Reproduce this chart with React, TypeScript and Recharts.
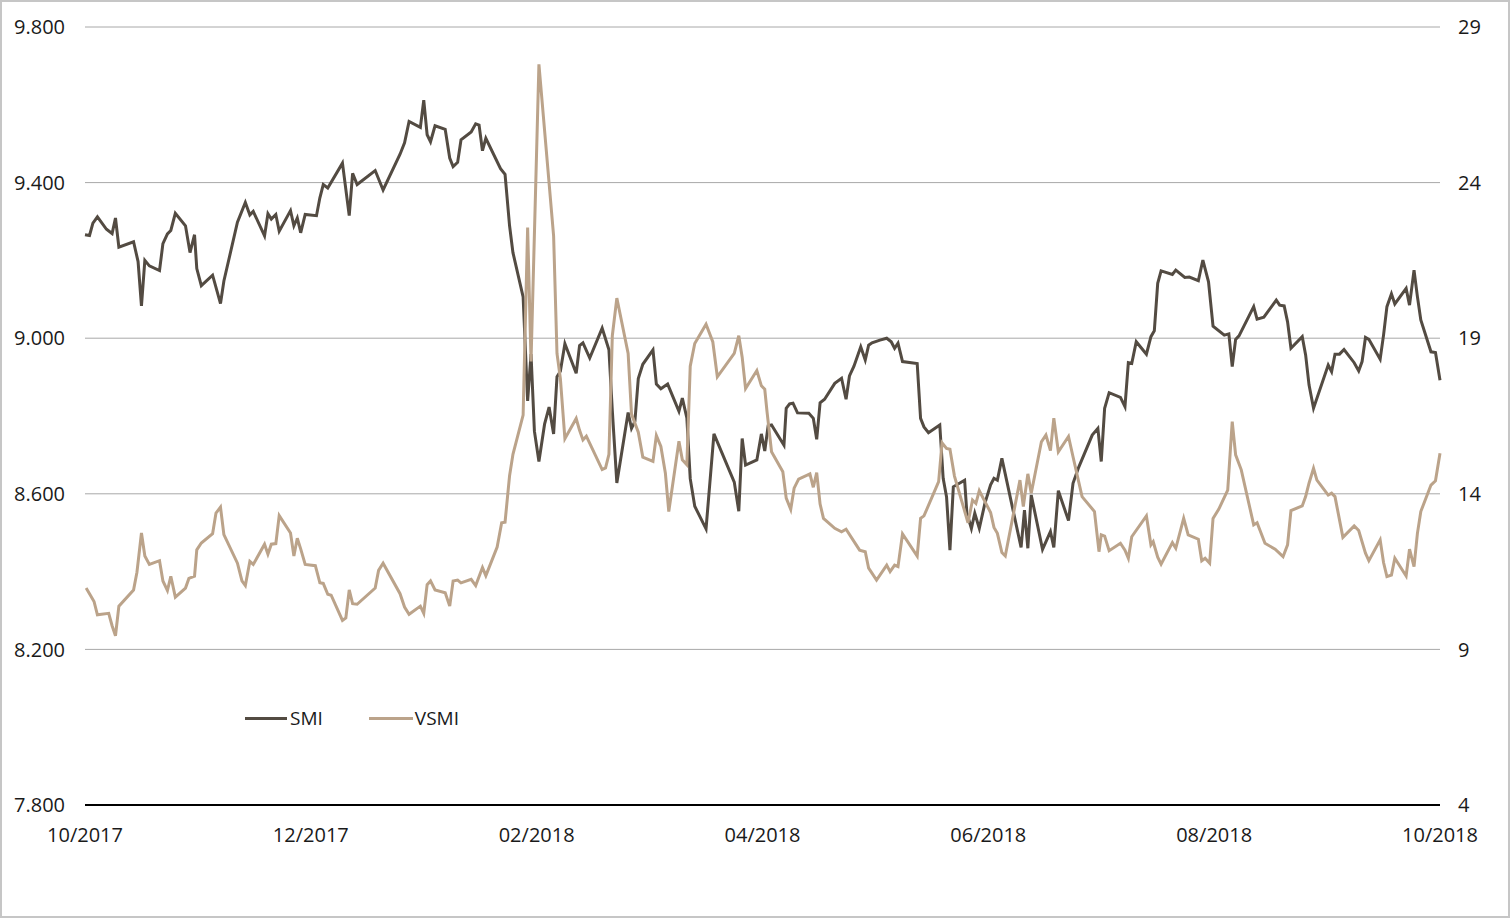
import { LineChart, Line, XAxis, YAxis, CartesianGrid } from "recharts";

// x = months since 10/2017
const smiMonths = [
  0, 0.04, 0.07, 0.11, 0.19, 0.24, 0.27, 0.3, 0.43, 0.47, 0.5, 0.53, 0.57, 0.66, 0.69, 0.73, 0.76, 0.8, 0.89, 0.93,
  0.97, 0.99, 1.03, 1.13, 1.2, 1.23, 1.35, 1.42, 1.46, 1.49, 1.59, 1.62, 1.65, 1.69, 1.72, 1.82, 1.85, 1.88, 1.91, 1.95,
  2.05, 2.08, 2.11, 2.15, 2.28, 2.34, 2.37, 2.41, 2.57, 2.64, 2.79, 2.83, 2.87, 2.97, 3.0, 3.03, 3.06, 3.1, 3.19, 3.23,
  3.26, 3.3, 3.33, 3.42, 3.46, 3.49, 3.52, 3.55, 3.68, 3.72, 3.76, 3.79, 3.88, 3.92, 3.95, 3.98, 4.02, 4.07, 4.11, 4.15,
  4.18, 4.21, 4.25, 4.35, 4.38, 4.41, 4.47, 4.58, 4.64, 4.67, 4.71, 4.81, 4.84, 4.87, 4.9, 4.94, 5.03, 5.06, 5.1, 5.16,
  5.26, 5.29, 5.33, 5.36, 5.4, 5.5, 5.57, 5.75, 5.79, 5.82, 5.85, 5.95, 5.99, 6.02, 6.05, 6.08, 6.19, 6.21, 6.24, 6.27,
  6.31, 6.41, 6.45, 6.48, 6.51, 6.55, 6.64, 6.7, 6.74, 6.77, 6.81, 6.87, 6.91, 6.94, 6.97, 7.04, 7.1, 7.14, 7.17, 7.2,
  7.24, 7.37, 7.4, 7.43, 7.47, 7.57, 7.6, 7.63, 7.66, 7.69, 7.79, 7.81, 7.85, 7.88, 7.92, 7.97, 8.02, 8.05, 8.08, 8.12,
  8.29, 8.32, 8.35, 8.38, 8.48, 8.55, 8.58, 8.62, 8.71, 8.75, 8.8, 8.92, 8.97, 9.0, 9.03, 9.07, 9.17, 9.21, 9.24, 9.27,
  9.31, 9.4, 9.44, 9.47, 9.5, 9.53, 9.63, 9.66, 9.74, 9.78, 9.86, 9.9, 9.95, 9.99, 10.09, 10.13, 10.16, 10.19, 10.22, 10.35,
  10.38, 10.44, 10.55, 10.58, 10.62, 10.65, 10.68, 10.78, 10.81, 10.84, 10.88, 11.01, 11.04, 11.07, 11.11, 11.15, 11.24, 11.28, 11.31, 11.34,
  11.37, 11.47, 11.5, 11.53, 11.57, 11.6, 11.7, 11.73, 11.77, 11.8, 11.83, 11.92, 11.96, 12.0,
];
const smiValues = [
  9266, 9264, 9296, 9312, 9280, 9269, 9309, 9234, 9248, 9197, 9083, 9200, 9186, 9174, 9243, 9268, 9277, 9321, 9289, 9220,
  9266, 9179, 9135, 9162, 9089, 9147, 9298, 9349, 9317, 9326, 9263, 9320, 9306, 9318, 9275, 9328, 9289, 9309, 9271, 9318,
  9315, 9361, 9395, 9386, 9450, 9315, 9424, 9395, 9431, 9381, 9473, 9502, 9557, 9542, 9612, 9523, 9505, 9546, 9537, 9463,
  9441, 9452, 9510, 9530, 9551, 9548, 9482, 9514, 9436, 9421, 9289, 9220, 9106, 8839, 8959, 8761, 8683, 8779, 8823, 8754,
  8901, 8915, 8986, 8910, 8981, 8988, 8949, 9026, 8970, 8814, 8628, 8809, 8768, 8786, 8896, 8933, 8970, 8882, 8870, 8882,
  8812, 8846, 8795, 8639, 8568, 8510, 8754, 8630, 8555, 8742, 8674, 8687, 8754, 8710, 8775, 8777, 8725, 8820, 8831, 8833,
  8808, 8807, 8794, 8740, 8834, 8843, 8884, 8897, 8843, 8903, 8928, 8978, 8944, 8982, 8988, 8995, 9000, 8991, 8974, 8987,
  8940, 8935, 8794, 8772, 8757, 8777, 8640, 8592, 8455, 8618, 8635, 8550, 8511, 8550, 8511, 8576, 8623, 8640, 8635, 8691,
  8462, 8558, 8460, 8597, 8457, 8503, 8462, 8608, 8531, 8627, 8668, 8751, 8768, 8683, 8820, 8860, 8848, 8824, 8937, 8935,
  8991, 8959, 9004, 9019, 9141, 9173, 9164, 9175, 9156, 9157, 9148, 9201, 9145, 9031, 9008, 9011, 8927, 8997, 9006, 9081,
  9049, 9054, 9098, 9085, 9083, 9042, 8974, 9004, 8957, 8880, 8820, 8931, 8914, 8959, 8959, 8971, 8937, 8916, 8940, 9002,
  8997, 8946, 9008, 9081, 9114, 9088, 9128, 9085, 9175, 9107, 9047, 8965, 8963, 8892,
];

const vsmiMonths = [
  0.01, 0.04, 0.08, 0.11, 0.21, 0.24, 0.27, 0.3, 0.43, 0.46, 0.5, 0.53, 0.57, 0.66, 0.69, 0.73, 0.76, 0.8, 0.89, 0.92,
  0.97, 0.99, 1.03, 1.13, 1.16, 1.2, 1.23, 1.35, 1.39, 1.42, 1.46, 1.49, 1.59, 1.62, 1.65, 1.69, 1.72, 1.82, 1.85, 1.88,
  1.91, 1.95, 2.04, 2.08, 2.11, 2.15, 2.18, 2.28, 2.31, 2.34, 2.37, 2.41, 2.57, 2.6, 2.64, 2.79, 2.83, 2.87, 2.97, 3.0,
  3.03, 3.06, 3.1, 3.19, 3.23, 3.26, 3.3, 3.33, 3.42, 3.46, 3.52, 3.55, 3.65, 3.69, 3.72, 3.76, 3.79, 3.88, 3.92, 3.95,
  4.02, 4.15, 4.18, 4.21, 4.25, 4.35, 4.38, 4.41, 4.44, 4.58, 4.61, 4.64, 4.67, 4.71, 4.81, 4.84, 4.9, 4.94, 5.03, 5.06,
  5.1, 5.14, 5.17, 5.26, 5.29, 5.33, 5.36, 5.4, 5.5, 5.56, 5.6, 5.75, 5.79, 5.82, 5.85, 5.95, 5.99, 6.02, 6.04, 6.08,
  6.18, 6.21, 6.25, 6.28, 6.32, 6.42, 6.45, 6.48, 6.51, 6.54, 6.64, 6.7, 6.74, 6.86, 6.91, 6.94, 7.01, 7.1, 7.13, 7.17,
  7.2, 7.24, 7.37, 7.4, 7.43, 7.56, 7.59, 7.63, 7.66, 7.7, 7.82, 7.86, 7.89, 7.92, 7.97, 8.02, 8.05, 8.08, 8.12, 8.15,
  8.28, 8.31, 8.35, 8.38, 8.47, 8.51, 8.55, 8.58, 8.62, 8.71, 8.75, 8.83, 8.94, 8.98, 9.0, 9.03, 9.07, 9.17, 9.21, 9.24,
  9.27, 9.4, 9.44, 9.46, 9.5, 9.53, 9.63, 9.66, 9.73, 9.77, 9.86, 9.89, 9.92, 9.96, 9.99, 10.04, 10.12, 10.16, 10.19, 10.24,
  10.35, 10.38, 10.45, 10.54, 10.61, 10.65, 10.68, 10.78, 10.81, 10.84, 10.88, 10.91, 11.01, 11.04, 11.07, 11.14, 11.24, 11.28, 11.34, 11.37,
  11.47, 11.5, 11.53, 11.57, 11.6, 11.7, 11.73, 11.77, 11.8, 11.83, 11.92, 11.96, 12.0,
];
const vsmiValues = [
  10.97, 10.79, 10.54, 10.11, 10.16, 9.76, 9.44, 10.39, 10.91, 11.48, 12.74, 12.0, 11.73, 11.85, 11.2, 10.89, 11.35, 10.68, 10.97, 11.28,
  11.35, 12.2, 12.42, 12.72, 13.38, 13.57, 12.69, 11.77, 11.2, 11.05, 11.83, 11.73, 12.38, 12.06, 12.38, 12.4, 13.3, 12.74, 12.0, 12.57,
  12.23, 11.73, 11.69, 11.14, 11.12, 10.77, 10.74, 9.93, 10.01, 10.91, 10.47, 10.45, 10.97, 11.54, 11.77, 10.79, 10.36, 10.13, 10.39, 10.16,
  11.08, 11.2, 10.91, 10.82, 10.39, 11.2, 11.23, 11.14, 11.25, 11.05, 11.63, 11.37, 12.29, 13.07, 13.09, 14.58, 15.27, 16.53, 22.56, 18.25,
  27.8, 22.29, 18.51, 17.7, 15.77, 16.42, 16.04, 15.73, 15.85, 14.78, 14.83, 15.27, 19.08, 20.29, 18.51, 16.56, 15.98, 15.18, 15.04, 15.87,
  15.52, 14.66, 13.43, 15.69, 15.09, 14.93, 18.1, 18.83, 19.45, 18.88, 17.76, 18.51, 19.08, 18.39, 17.38, 17.96, 17.47, 17.36, 16.64, 15.35,
  14.71, 13.86, 13.5, 14.18, 14.47, 14.64, 14.21, 14.68, 13.67, 13.21, 12.89, 12.78, 12.86, 12.19, 12.14, 11.61, 11.23, 11.71, 11.5, 11.71,
  11.66, 12.71, 12.0, 13.21, 13.29, 14.39, 15.64, 15.46, 15.43, 14.57, 13.07, 13.8, 13.69, 14.1, 13.75, 13.4, 12.92, 12.73, 12.11, 12.0,
  14.44, 13.59, 14.64, 14.02, 15.67, 15.89, 15.39, 16.43, 15.35, 15.84, 15.19, 13.91, 13.43, 12.14, 12.68, 12.64, 12.17, 12.41, 12.19, 11.93,
  12.62, 13.29, 12.36, 12.46, 11.96, 11.74, 12.43, 12.25, 13.21, 12.68, 12.54, 11.85, 11.93, 11.77, 13.21, 13.5, 14.12, 16.32, 15.25, 14.77,
  13.0, 13.07, 12.41, 12.22, 11.98, 12.36, 13.46, 13.61, 13.91, 14.34, 14.82, 14.44, 13.96, 14.02, 13.91, 12.6, 12.97, 12.82, 12.09, 11.85,
  12.52, 11.79, 11.34, 11.39, 11.93, 11.36, 12.22, 11.66, 12.73, 13.43, 14.28, 14.42, 15.3,
];

const xTicks = [0, 2, 4, 6, 8, 10, 12];
const xTickLabels = ["10/2017", "12/2017", "02/2018", "04/2018", "06/2018", "08/2018", "10/2018"];
const leftTicks = [7800, 8200, 8600, 9000, 9400, 9800];
const rightTicks = [4, 9, 14, 19, 24, 29];

const SMI_COLOR = "#534b42";
const VSMI_COLOR = "#bba38a";
const FONT = "'Open Sans', sans-serif";

const smiData = smiMonths.map((t, i) => ({ t, smi: smiValues[i] }));
const vsmiData = vsmiMonths.map((t, i) => ({ t, vsmi: vsmiValues[i] }));

const fmtThousands = (v: number) => `${Math.floor(v / 1000)}.${String(v % 1000).padStart(3, "0")}`;

const tickStyle = { fill: "#1a1a1a", fontSize: 20, fontFamily: FONT };

export default function App() {
  return (
    <div style={{ position: "absolute", left: 0, top: 0, width: 1511, height: 919, background: "#fff" }}>
      <LineChart width={1511} height={919} margin={{ top: 27, right: 0, bottom: 0, left: 0 }}>
        <CartesianGrid vertical={false} stroke="#a8a8a8" yAxisId="left" />
        <XAxis
          dataKey="t"
          type="number"
          domain={[0, 12]}
          ticks={xTicks}
          interval={0}
          tickFormatter={(v: number) => xTickLabels[xTicks.indexOf(v)]}
          height={114}
          tickLine={false}
          tickSize={0}
          tickMargin={23}
          axisLine={{ stroke: "#000", strokeWidth: 2 }}
          tick={tickStyle}
        />
        <YAxis
          yAxisId="left"
          orientation="left"
          domain={[7800, 9800]}
          ticks={leftTicks}
          width={85}
          axisLine={false}
          tickLine={false}
          tickSize={0}
          tickMargin={20}
          tickFormatter={fmtThousands}
          tick={tickStyle}
        />
        <YAxis
          yAxisId="right"
          orientation="right"
          domain={[4, 29]}
          ticks={rightTicks}
          width={71}
          axisLine={false}
          tickLine={false}
          tickSize={0}
          tickMargin={18}
          tick={{ ...tickStyle, textAnchor: "start" }}
        />
        <Line
          yAxisId="left"
          data={smiData}
          dataKey="smi"
          type="linear"
          stroke={SMI_COLOR}
          strokeWidth={3}
          dot={false}
          isAnimationActive={false}
        />
        <Line
          yAxisId="right"
          data={vsmiData}
          dataKey="vsmi"
          type="linear"
          stroke={VSMI_COLOR}
          strokeWidth={3}
          dot={false}
          isAnimationActive={false}
        />
      </LineChart>
      <div
        style={{
          position: "absolute",
          left: 245,
          top: 705,
          display: "flex",
          alignItems: "center",
          fontFamily: FONT,
          fontSize: 19,
          color: "#1a1a1a",
          lineHeight: "26px",
        }}
      >
        <span style={{ display: "inline-block", width: 42, height: 3, background: SMI_COLOR, marginRight: 3 }} />
        <span style={{ marginRight: 46 }}>SMI</span>
        <span style={{ display: "inline-block", width: 44, height: 3, background: VSMI_COLOR, marginRight: 2 }} />
        <span>VSMI</span>
      </div>
      <div
        style={{
          position: "absolute",
          left: 0,
          top: 0,
          width: 1510,
          height: 918,
          boxSizing: "border-box",
          border: "2px solid #c6c6c6",
          pointerEvents: "none",
        }}
      />
    </div>
  );
}
